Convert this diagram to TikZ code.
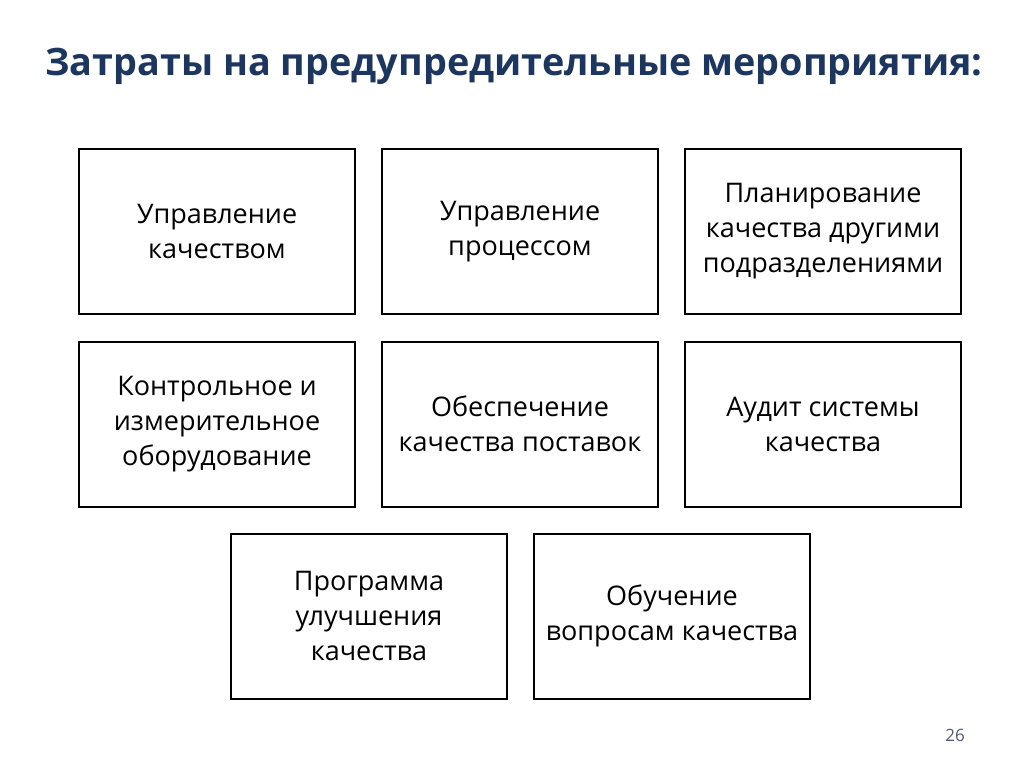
\documentclass[tikz,border=0pt]{standalone}
\usepackage{fontspec}
\setmainfont{Open Sans}
\definecolor{titleblue}{RGB}{28,54,96}
\definecolor{pagegray}{RGB}{80,90,120}
\tikzset{box/.style={draw,line width=2pt,minimum width=276pt,minimum height=165pt,
  align=center,font=\fontsize{27}{35}\selectfont}}

\begin{document}
\begin{tikzpicture}[x=1pt,y=-1pt]
 	 	\useasboundingbox (0,0) rectangle (1024,767);
 	 	\node[font=\fontsize{37.8}{45}\selectfont\bfseries,text=titleblue] (title) at (514,66) {Затраты на предупредительные мероприятия:};

 	 	\node[box] (upk) at (217,231.5) {Управление\\качеством};
 	 	\node[box] (upp) at (520,231.5) {Управление\\процессом};
 	 	\node[box] (plan) at (823,231.5) {Планирование\\качества другими\\подразделениями};

 	 	\node[box] (kontr) at (217,424) {Контрольное и\\измерительное\\оборудование};
 	 	\node[box] (obesp) at (520,424) {Обеспечение\\качества поставок};
 	 	\node[box] (audit) at (823,424) {Аудит системы\\качества};

 	 	\node[box] (prog) at (369,616) {Программа\\улучшения\\качества};
 	 	\node[box] (obuch) at (672,616) {Обучение\\вопросам качества};

 	 	\node[font=\fontsize{17}{20}\selectfont,text=pagegray] (num) at (955,735) {26};
 	 \end{tikzpicture}
\end{document}
